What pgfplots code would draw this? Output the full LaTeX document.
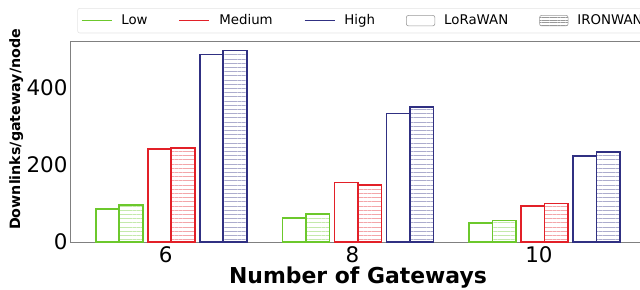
\documentclass[border=0pt]{standalone}
\usepackage{pgfplots}
\pgfplotsset{compat=1.18}
\usepackage{pgfplotstable}
\usepackage{fontspec}
\setmainfont{DejaVu Sans}
\usetikzlibrary{patterns.meta}
\definecolor{cLow}{RGB}{108,200,44}
\definecolor{cMed}{RGB}{226,32,40}
\definecolor{cHigh}{RGB}{48,48,130}
\definecolor{spine}{RGB}{128,128,128}

\pgfplotstableread{
g  lowL lowI medL medI highL highI
6  85   96   241  244  487   497
8  63   72   154  148  334   351
10 50   56   94   100  224   234
}\datatable

\tikzset{hatch/.style={pattern={Lines[angle=0,distance=4.2bp,line width=0.8bp]}, pattern color=#1}}
\tikzset{hatchleg/.style={pattern={Lines[angle=0,distance=2.7bp,line width=0.6bp]}, pattern color=#1}}
\pgfplotsset{
  lineleg/.style={legend image code/.code={\draw[##1] (0bp,0bp) -- (30bp,0bp);}},
  boxleg/.style={legend image code/.code={\draw[##1] (0bp,-5.2bp) rectangle (28.5bp,5.2bp);}},
}

\begin{document}
\begin{tikzpicture}
\begin{axis}[
  at={(70bp,48bp)}, anchor=south west,
  scale only axis, width=585bp, height=201bp,
  xmin=4.974, xmax=11.244, ymin=0, ymax=522,
  axis x line*=box, axis y line*=left,
  xtick={6,8,10}, ytick={0,200,400},
  tick style={draw=none},
  axis line style={draw=spine, line width=0.9bp, -},
  tick label style={font=\fontsize{21.5}{24}\selectfont},
  /pgf/number format/assume math mode=true,
  xticklabel style={yshift=-1bp},
  yticklabel style={xshift=1bp},
  xlabel={\textbf{Number of Gateways}},
  xlabel style={font=\fontsize{22}{24}\selectfont, at={(axis description cs:0.5,0)}, anchor=center, yshift=-36bp, xshift=-4.5bp},
  ylabel={\textbf{Downlinks/gateway/node}},
  ylabel style={font=\fontsize{14.3}{16}\selectfont, at={(axis description cs:-0.092,0.56)}, anchor=center},
  legend columns=5,
  legend style={at={(axis description cs:0.0126,1.164)}, anchor=north west,
    draw=black!10, rounded corners=2bp, line width=0.6bp,
    font=\fontsize{13.4}{15}\selectfont,
    inner xsep=3bp, inner ysep=4.5bp,
    /tikz/every odd column/.append style={column sep=7bp},
    /tikz/every even column/.append style={column sep=29bp}},
  legend cell align=left,
]
\addlegendimage{lineleg, cLow, line width=1.7bp}
\addlegendentry{Low}
\addlegendimage{lineleg, cMed, line width=1.7bp}
\addlegendentry{Medium}
\addlegendimage{lineleg, cHigh, line width=1.7bp}
\addlegendentry{High}
\addlegendimage{boxleg, draw=black!40, fill=white, line width=0.6bp}
\addlegendentry{LoRaWAN}
\addlegendimage{boxleg, draw=black!40, hatchleg=black!40, line width=0.6bp}
\addlegendentry{IRONWAN}

\addplot[forget plot, ybar, bar shift=0pt, bar width=0.252, draw=cLow, line width=1.6bp, fill=white]
  table[x expr=\thisrow{g}-0.624, y=lowL]{\datatable};
\addplot[forget plot, ybar, bar shift=0pt, bar width=0.252, draw=cLow, line width=1.6bp, hatch=cLow!40]
  table[x expr=\thisrow{g}-0.372, y=lowI]{\datatable};
\addplot[forget plot, ybar, bar shift=0pt, bar width=0.252, draw=cMed, line width=1.6bp, fill=white]
  table[x expr=\thisrow{g}-0.066, y=medL]{\datatable};
\addplot[forget plot, ybar, bar shift=0pt, bar width=0.252, draw=cMed, line width=1.6bp, hatch=cMed!40]
  table[x expr=\thisrow{g}+0.185, y=medI]{\datatable};
\addplot[forget plot, ybar, bar shift=0pt, bar width=0.252, draw=cHigh, line width=1.6bp, fill=white]
  table[x expr=\thisrow{g}+0.491, y=highL]{\datatable};
\addplot[forget plot, ybar, bar shift=0pt, bar width=0.252, draw=cHigh, line width=1.6bp, hatch=cHigh!40]
  table[x expr=\thisrow{g}+0.743, y=highI]{\datatable};
\end{axis}
\pgfresetboundingbox
\path[use as bounding box] (0,0) rectangle (640bp,290bp);
\end{tikzpicture}
\end{document}
